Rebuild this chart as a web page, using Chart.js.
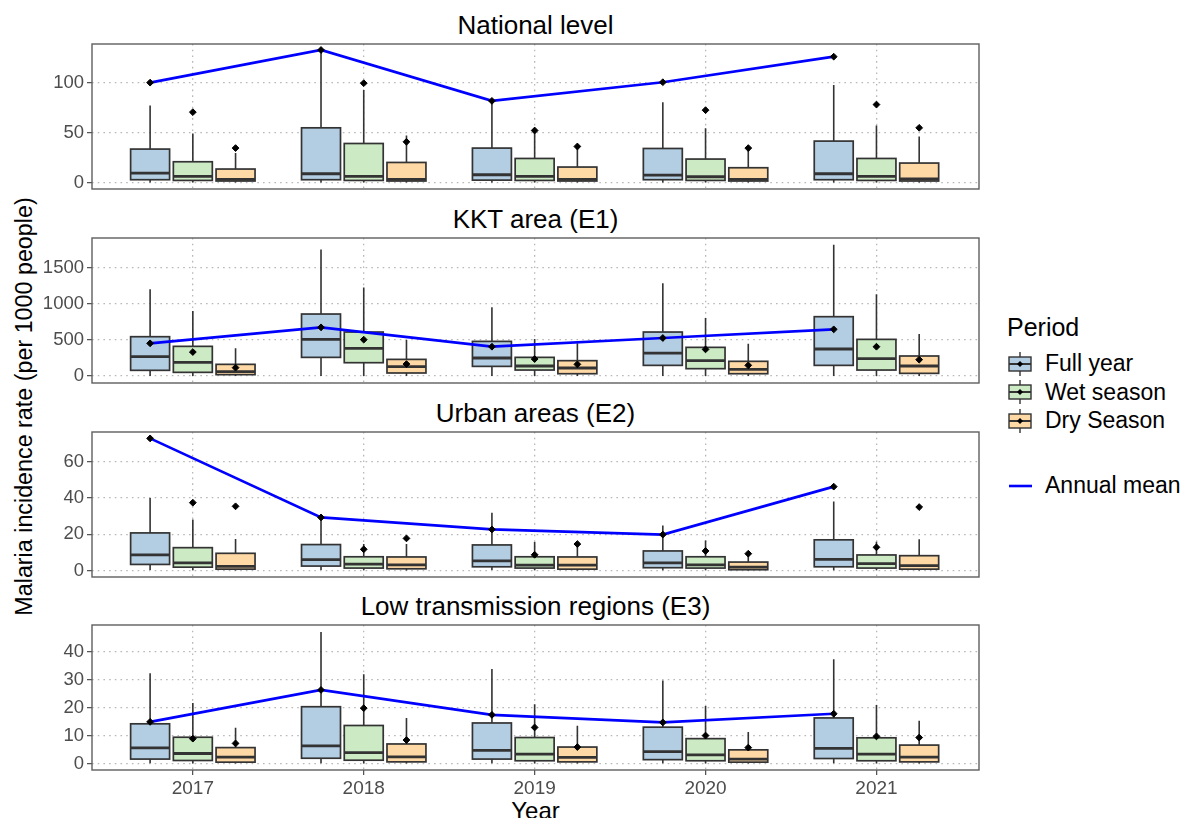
<!DOCTYPE html>
<html>
<head>
<meta charset="utf-8">
<script src="https://cdn.jsdelivr.net/npm/chart.js@4.4.0/dist/chart.umd.min.js"></script>
<style>
  body { margin: 0; background: #fff; width: 1183px; height: 818px; overflow: hidden; position: relative;
         font-family: "Liberation Sans", Arial, Helvetica, sans-serif; }
  canvas { position: absolute; left: 0; }
  .txt { position: absolute; white-space: nowrap; color: #000; }
  .ptitle { left: 92px; width: 887px; text-align: center; font-size: 26px; line-height: 26px; }
  .lg { left: 1045px; font-size: 23px; line-height: 23px; }
</style>
</head>
<body>
<div class="txt" id="ytitle" style="left:-196px; top:395px; width:440px; height:23px; font-size:23.3px; line-height:23px; text-align:center; transform:rotate(-90deg);">Malaria incidence rate (per 1000 people)</div>
<div class="txt" style="left:92px; top:799px; width:887px; text-align:center; font-size:24px; line-height:24px;">Year</div>
<div id="legend"></div>

<script>
const years = [2017, 2018, 2019, 2020, 2021];
const periods = ["Full year", "Wet season", "Dry Season"];
const periodFills = ["#b3cde3", "#ccebc5", "#fed9a6"];
const periodOffsets = [-0.25, 0, 0.25];
const panelTitles = ["National level", "KKT area (E1)", "Urban areas (E2)", "Low transmission regions (E3)"];

// one row per year: [lower whisker, Q1, median, Q3, upper whisker, mean]
const nationalFull = [[0, 2.7, 9.4, 33.4, 77, 100], [0, 2.7, 8.7, 54.7, 132.7, 132.7], [0, 2.3, 7.7, 34.4, 81.7, 81.7], [0, 2.7, 7.4, 34, 80.4, 100.4], [0, 2.7, 8.7, 41.4, 97.7, 126]];
const nationalWet = [[0, 2, 6, 20.7, 49, 70.4], [0, 2, 6, 39, 92.7, 99.4], [0, 2, 6, 24, 51, 52], [0, 2, 5.7, 23.4, 54.4, 72.4], [0, 2, 6, 24, 57, 78]];
const nationalDry = [[0, 1.4, 3, 13.4, 29.4, 34.4], [0, 1.4, 3, 20, 47, 40.7], [0, 1.4, 3, 15.4, 36, 36], [0, 1.4, 3, 14.7, 33, 34.4], [0, 1.4, 3.4, 19.4, 46, 54.7]];

const kktFull = [[0, 79, 268, 546, 1204, 454], [0, 259, 509, 861, 1759, 676], [0, 134, 250, 481, 954, 407], [0, 148, 319, 611, 1287, 528], [0, 148, 375, 824, 1824, 648]];
const kktWet = [[0, 51, 190, 412, 903, 333], [0, 185, 384, 611, 1231, 505], [0, 83, 139, 259, 514, 236], [0, 102, 213, 398, 806, 370], [0, 83, 241, 509, 1134, 407]];
const kktDry = [[0, 19, 60, 162, 384, 116], [0, 42, 130, 231, 500, 166], [0, 32, 111, 213, 454, 162], [0, 32, 93, 204, 449, 148], [0, 37, 139, 278, 583, 227]];

const urbanFull = [[0.5, 3.5, 8.7, 20.8, 40, 72.7], [0.5, 2.6, 6.1, 14.4, 29.3, 29.3], [0.5, 2.2, 5.4, 14.2, 31.9, 22.7], [0.3, 1.7, 4.4, 10.9, 24.9, 19.9], [0.3, 2.2, 6.3, 17, 38.1, 46.2]];
const urbanWet = [[0.3, 2, 4.4, 12.7, 28.2, 37.4], [0.3, 1.5, 3.7, 7.7, 14.7, 11.8], [0.3, 1.5, 3.1, 7.7, 15.8, 8.8], [0.3, 1.5, 3.3, 7.7, 16.6, 10.9], [0.3, 1.5, 3.9, 8.7, 16, 12.9]];
const urbanDry = [[0.2, 0.9, 2.4, 9.6, 17.5, 35.4], [0.2, 1.1, 3.3, 7.6, 14.7, 17.8], [0.2, 0.9, 3.1, 7.6, 14.7, 14.7], [0.2, 0.6, 2, 4.8, 10.1, 9.4], [0.2, 0.9, 2.8, 8.3, 17.3, 35]];

const lowFull = [[0.2, 1.7, 5.7, 14.3, 32.4, 15], [0.2, 2, 6.4, 20.4, 47.1, 26.4], [0.2, 1.7, 4.8, 14.6, 33.9, 17.5], [0.2, 1.5, 4.4, 13.1, 29.8, 14.8], [0.2, 1.9, 5.5, 16.4, 37.4, 17.9]];
const lowWet = [[0.1, 1.2, 3.7, 9.5, 21.7, 9], [0.1, 1.3, 4, 13.7, 32, 19.9], [0.1, 1.1, 3.5, 9.4, 21.3, 13], [0.1, 1.1, 3.2, 9, 20.7, 10.1], [0.1, 1.1, 3.5, 9.3, 21, 9.8]];
const lowDry = [[0.1, 0.6, 2.4, 5.8, 12.9, 7.3], [0.1, 0.7, 2.5, 7.1, 16.4, 8.5], [0.1, 0.7, 2.3, 6, 13.6, 6], [0.1, 0.6, 1.7, 5, 11.4, 5.8], [0.1, 0.7, 2.4, 6.7, 15.4, 9.4]];

const nationalTicks = [0, 50, 100];
const kktTicks = [0, 500, 1000, 1500];
const urbanTicks = [0, 20, 40, 60];
const lowTicks = [0, 10, 20, 30, 40];

const FONT = '"Liberation Sans", Arial, Helvetica, sans-serif';
const PANEL_H = 145, PAD = 6, LEFT = 92, RIGHT = 979, CANVAS_W = 990;
const BOX_HALF = 0.114;
const EDGE = "#333333";

const panels = [
  { title: panelTitles[0], groups: [nationalFull, nationalWet, nationalDry], ticks: nationalTicks, yMin: -6.6, yMax: 138.7, top: 44 },
  { title: panelTitles[1], groups: [kktFull, kktWet, kktDry], ticks: kktTicks, yMin: -97, yMax: 1917, top: 238 },
  { title: panelTitles[2], groups: [urbanFull, urbanWet, urbanDry], ticks: urbanTicks, yMin: -3.4, yMax: 76.2, top: 432 },
  { title: panelTitles[3], groups: [lowFull, lowWet, lowDry], ticks: lowTicks, yMin: -2.2, yMax: 49.6, top: 625 }
];

// box + whiskers + median, drawn through the chart's scales
function boxPlugin(groups) {
  return {
    id: "boxes",
    beforeDatasetsDraw(chart) {
      const { ctx, chartArea, scales: { x, y } } = chart;
      ctx.save();
      ctx.beginPath();
      ctx.rect(chartArea.left, chartArea.top, chartArea.right - chartArea.left, chartArea.bottom - chartArea.top);
      ctx.clip();
      groups.forEach((rows, p) => {
        rows.forEach((s, i) => {
          const xv = years[i] + periodOffsets[p];
          const cx = x.getPixelForValue(xv);
          const x0 = x.getPixelForValue(xv - BOX_HALF);
          const x1 = x.getPixelForValue(xv + BOX_HALF);
          const [lo, q1, med, q3, hi] = s;
          ctx.strokeStyle = EDGE;
          ctx.lineWidth = 1.6;
          ctx.beginPath();
          ctx.moveTo(cx, y.getPixelForValue(hi));
          ctx.lineTo(cx, y.getPixelForValue(q3));
          ctx.moveTo(cx, y.getPixelForValue(q1));
          ctx.lineTo(cx, y.getPixelForValue(lo));
          ctx.stroke();
          const yt = y.getPixelForValue(q3), yb = y.getPixelForValue(q1);
          ctx.fillStyle = periodFills[p];
          ctx.fillRect(x0, yt, x1 - x0, yb - yt);
          ctx.lineWidth = 1.7;
          ctx.strokeRect(x0, yt, x1 - x0, yb - yt);
          ctx.lineWidth = 2.8;
          ctx.beginPath();
          const ym = y.getPixelForValue(med);
          ctx.moveTo(x0, ym);
          ctx.lineTo(x1, ym);
          ctx.stroke();
        });
      });
      ctx.restore();
    }
  };
}

const framePlugin = {
  id: "frame",
  afterDraw(chart) {
    const { ctx, chartArea: a } = chart;
    ctx.save();
    ctx.strokeStyle = "#5e5e5e";
    ctx.lineWidth = 1.4;
    ctx.strokeRect(a.left, a.top, a.right - a.left, a.bottom - a.top);
    ctx.restore();
  }
};

function noPad(s) {
  s.paddingTop = 0; s.paddingBottom = 0; s.paddingLeft = 0; s.paddingRight = 0;
}

panels.forEach((p, k) => {
  const last = k === panels.length - 1;
  const bottomSpace = last ? 34 : PAD;

  const t = document.createElement("div");
  t.className = "txt ptitle";
  t.style.top = (p.top - 32) + "px";
  t.textContent = p.title;
  document.body.appendChild(t);

  const cv = document.createElement("canvas");
  cv.width = CANVAS_W;
  cv.height = PAD + PANEL_H + bottomSpace;
  cv.style.top = (p.top - PAD) + "px";
  document.body.appendChild(cv);

  const meanPoints = [];
  p.groups.forEach((rows, g) => rows.forEach((s, i) => meanPoints.push({ x: years[i] + periodOffsets[g], y: s[5] })));
  const annualLine = p.groups[0].map((s, i) => ({ x: years[i] + periodOffsets[0], y: s[5] }));

  const gridOpts = { color: "#b8b8b8", lineWidth: 1.3, tickLength: 5, tickColor: "#4d4d4d", tickWidth: 1.2, tickBorderDash: [] };

  new Chart(cv, {
    type: "scatter",
    data: {
      datasets: [
        { label: "mean", data: meanPoints, pointStyle: "rectRot", pointRadius: 3.4, backgroundColor: "#000", borderColor: "#000", borderWidth: 1 },
        { type: "line", label: "Annual mean", data: annualLine, borderColor: "#0000ff", borderWidth: 2.7, pointRadius: 0, fill: false, tension: 0 }
      ]
    },
    options: {
      responsive: false,
      animation: false,
      events: [],
      layout: { padding: { top: PAD, right: CANVAS_W - RIGHT, left: 0, bottom: 0 } },
      plugins: { legend: { display: false }, tooltip: { enabled: false } },
      scales: {
        x: {
          type: "linear", min: 2016.41, max: 2021.6,
          afterBuildTicks: s => { s.ticks = years.map(v => ({ value: v })); },
          afterFit: s => { s.height = bottomSpace; noPad(s); },
          grid: Object.assign({}, gridOpts, { drawTicks: last }),
          border: { display: false, dash: [1.6, 4.1] },
          ticks: { display: last, autoSkip: false, maxRotation: 0, padding: 2, color: "#4d4d4d",
                   font: { family: FONT, size: 19 }, callback: v => String(v) }
        },
        y: {
          min: p.yMin, max: p.yMax,
          afterBuildTicks: s => { s.ticks = p.ticks.map(v => ({ value: v })); },
          afterFit: s => { s.width = LEFT; noPad(s); },
          grid: Object.assign({}, gridOpts, { drawTicks: true }),
          border: { display: false, dash: [1.6, 4.1] },
          ticks: { padding: 3, color: "#4d4d4d", font: { family: FONT, size: 18.5 }, callback: v => String(v) }
        }
      }
    },
    plugins: [boxPlugin(p.groups), framePlugin]
  });
});

// legend
const legend = document.getElementById("legend");
const lt = document.createElement("div");
lt.className = "txt";
lt.style.cssText = "left:1007px; top:315px; font-size:25px; line-height:25px;";
lt.textContent = "Period";
legend.appendChild(lt);

periods.forEach((name, i) => {
  const cy = 363.5 + i * 28.5;
  const key = document.createElement("canvas");
  key.width = 26; key.height = 26;
  key.style.left = "1007px";
  key.style.top = (cy - 13) + "px";
  legend.appendChild(key);
  const c = key.getContext("2d");
  c.strokeStyle = EDGE;
  c.lineWidth = 1.4;
  c.beginPath(); c.moveTo(13, 1); c.lineTo(13, 25); c.stroke();
  c.fillStyle = periodFills[i];
  c.fillRect(2, 6, 22, 14);
  c.strokeRect(2, 6, 22, 14);
  c.lineWidth = 2;
  c.beginPath(); c.moveTo(2, 13); c.lineTo(24, 13); c.stroke();
  c.fillStyle = "#000";
  c.beginPath(); c.moveTo(13, 10); c.lineTo(16, 13); c.lineTo(13, 16); c.lineTo(10, 13); c.closePath(); c.fill();

  const tx = document.createElement("div");
  tx.className = "txt lg";
  tx.style.top = (cy - 11.5) + "px";
  tx.textContent = name;
  legend.appendChild(tx);
});

const lineKey = document.createElement("canvas");
lineKey.width = 26; lineKey.height = 10;
lineKey.style.left = "1007px";
lineKey.style.top = "481px";
legend.appendChild(lineKey);
const lc = lineKey.getContext("2d");
lc.strokeStyle = "#0000ff"; lc.lineWidth = 2.6;
lc.beginPath(); lc.moveTo(2, 5); lc.lineTo(25, 5); lc.stroke();

const am = document.createElement("div");
am.className = "txt lg";
am.style.top = "473.5px";
am.textContent = "Annual mean";
legend.appendChild(am);
</script>
</body>
</html>
